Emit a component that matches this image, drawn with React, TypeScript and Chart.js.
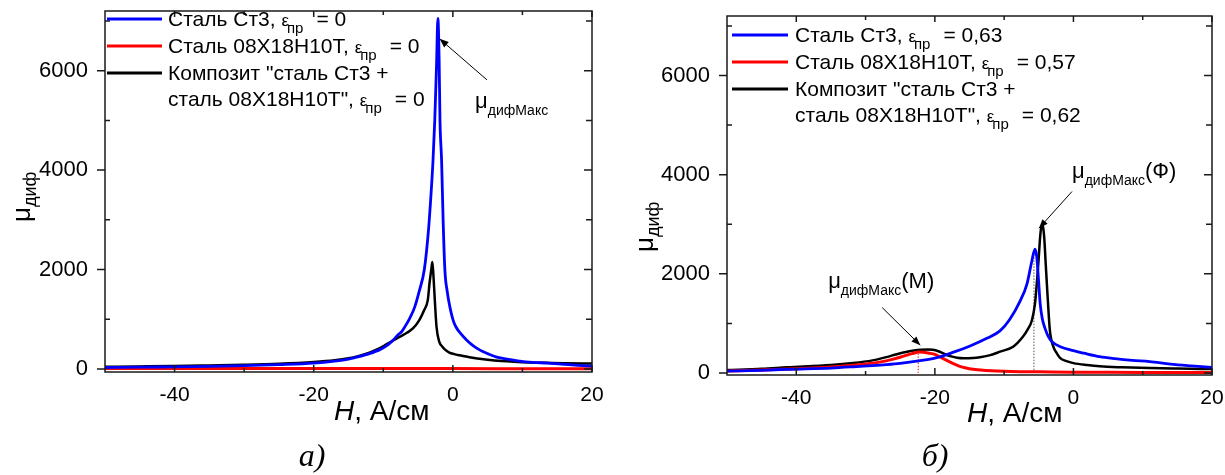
import React, { useEffect, useRef } from "react";
import { Chart, registerables } from "chart.js";

Chart.register(...registerables);

const SANS = '"Liberation Sans", Arial, sans-serif';
const SERIF = '"Liberation Serif", "Times New Roman", serif';

// ---------- Panel а): ε_пр = 0 ----------
const hA_st3 = [-50, -45, -40, -35, -30, -25, -20, -17, -15, -13.5, -12, -10.5, -9.5, -8.6, -7.8, -7.4, -6.9, -6.2, -5.5, -4.8, -4.1, -3.5, -3.1, -2.85, -2.6, -2.35, -2.15, -1.97, -1.85, -1.62, -1.4, -1.15, -0.8, -0.43, 0, 0.43, 1.2, 2, 3, 3.9, 5, 6.3, 8, 9.6, 11.5, 13.5, 16, 18, 20];
const muA_st3 = [30, 38, 45, 55, 70, 90, 120, 160, 200, 250, 310, 390, 470, 580, 700, 745, 850, 1020, 1240, 1580, 2000, 2800, 3600, 4200, 5000, 6100, 7050, 6200, 5000, 4200, 3000, 2000, 1550, 1250, 1000, 850, 700, 580, 460, 380, 310, 240, 195, 160, 135, 120, 95, 75, 60];

const hA_ss = [-50, -40, -30, -20, -10, -5, -3, 0, 10, 20];
const muA_ss = [10, 10, 9, 8, 8, 9, 11, 9, 7, 6];

const hA_cmp = [-50, -45, -40, -35, -30, -25, -20, -17, -15, -13.5, -12, -10.5, -9.5, -8.5, -7.6, -6.6, -5.7, -4.8, -4.1, -3.6, -3.35, -3.1, -2.95, -2.8, -2.6, -2.35, -1.96, -1.5, -1.2, -0.5, 0.2, 1, 2.1, 3.5, 5, 7, 8.8, 11, 13.5, 16, 20];
const muA_cmp = [45, 52, 60, 72, 85, 105, 140, 175, 215, 265, 330, 420, 500, 580, 650, 730, 820, 990, 1190, 1390, 1730, 2000, 2150, 1900, 1400, 850, 550, 450, 400, 330, 300, 275, 245, 210, 185, 160, 145, 132, 125, 118, 110];

// ---------- Panel б): ε_пр ≠ 0 ----------
const hB_st3 = [-50, -45, -41.4, -35, -31.8, -27, -25, -22.1, -20, -17.3, -15, -12.5, -10.6, -9.2, -7.7, -6.7, -6, -5.55, -5.3, -5.05, -4.8, -4.5, -4.1, -3.6, -3, -1.9, 0, 1.5, 3.8, 6, 8.5, 11, 14, 17, 20];
const muB_st3 = [40, 55, 75, 100, 125, 170, 195, 250, 300, 420, 540, 700, 850, 1080, 1450, 1800, 2260, 2500, 2350, 1900, 1400, 1100, 900, 730, 620, 530, 450, 400, 330, 290, 255, 230, 180, 145, 115];

const hB_ss = [-50, -45, -40, -35, -31, -28, -26, -24.5, -23.3, -22.3, -21.5, -20.8, -20, -19.3, -18.5, -17.5, -16.5, -15.5, -14.5, -13, -11, -9, -6, -3, 0, 5, 10, 15, 20];
const muB_ss = [40, 60, 85, 120, 165, 220, 280, 340, 390, 425, 415, 400, 375, 330, 270, 200, 140, 100, 75, 55, 40, 30, 25, 20, 17, 14, 12, 10, 10];

const hB_cmp = [-50, -45, -41.3, -35, -31.8, -29, -27, -25.5, -24, -23, -22, -21, -20.3, -19.5, -18.7, -17.8, -16.8, -15.9, -14.5, -13.5, -12, -10.6, -8.7, -7.3, -6.6, -6, -5.55, -5.07, -4.8, -4.6, -4.4, -4.2, -4.0, -3.75, -3.4, -2.9, -2.4, -1.9, -1, 0, 2, 3.8, 7, 11, 15, 20];
const muB_cmp = [60, 85, 115, 160, 200, 255, 320, 380, 430, 455, 470, 475, 470, 440, 390, 340, 310, 300, 305, 320, 360, 430, 530, 730, 880, 1060, 1400, 2200, 2750, 2980, 2950, 2700, 2200, 1600, 860, 530, 400, 300, 240, 200, 160, 135, 115, 100, 90, 80];

// dotted guide lines at the maxima (panel б)
const hB_guideSS = [-22.4, -22.4];
const muB_guideSS = [0, 420];
const hB_guideSt3 = [-5.7, -5.7];
const muB_guideSt3 = [0, 2420];

// ---------- axes ----------
const xRange = [-50, 20];
const xMajorTicks = [-40, -20, 0, 20];
const xMinorTicks = [-30, -10, 10];
const yMajorTicks = [0, 2000, 4000, 6000];
const yMinorTicks = [1000, 3000, 5000, 7000];

// ---------- texts ----------
const seriesNames = ["Сталь Ст3", "Сталь 08Х18Н10Т", 'Композит "сталь Ст3 +', 'сталь 08Х18Н10Т"'];
const epsA = ["0", "0", "0"];
const epsB = ["0,63", "0,57", "0,62"];
const seriesColors = ["#0000ff", "#ff0000", "#000000"];
const xTitleMain = "H";
const xTitleRest = ", А/см";
const yTitleMain = "μ";
const yTitleSub = "диф";
const noteMain = "μ";
const noteSub = "дифМакс";
const captions = ["а)", "б)"];

type Seg = { t: string; size: number; dy?: number; dx?: number; italic?: boolean; serif?: boolean };
const S = (t: string, size = 21, extra: Partial<Seg> = {}): Seg => ({ t, size, ...extra });

function epsRow(name: string, eps: string): Seg[] {
  return [S(name + ", "), S("ε", 17), S("пр", 15, { dy: 7, dx: -2 }), S("= " + eps, 21, { dx: 13 })];
}

function drawRich(ctx: CanvasRenderingContext2D, x: number, y: number, segs: Seg[]) {
  let cx = x;
  for (const s of segs) {
    cx += s.dx || 0;
    ctx.font = `${s.italic ? "italic " : ""}${s.size}px ${s.serif ? SERIF : SANS}`;
    ctx.fillText(s.t, cx, y + (s.dy || 0));
    cx += ctx.measureText(s.t).width;
  }
  return cx - x;
}
function richWidth(ctx: CanvasRenderingContext2D, segs: Seg[]) {
  let w = 0;
  for (const s of segs) {
    w += s.dx || 0;
    ctx.font = `${s.italic ? "italic " : ""}${s.size}px ${s.serif ? SERIF : SANS}`;
    w += ctx.measureText(s.t).width;
  }
  return w;
}

interface Series { h: number[]; mu: number[]; color: string; width: number; dash?: number[] }
interface Note { segs: Seg[]; at: [number, number]; from: [number, number]; to: [number, number] }
interface Panel {
  left: number; width: number;
  padTop: number; padRight: number; yAxisWidth: number; xAxisHeight: number;
  yMin: number; yMax: number;
  series: Series[];
  legendRows: { color: string | null; segs: Seg[]; y: number }[];
  legendX0: number; legendX1: number; legendTextX: number;
  yTitle: [number, number];
  xTitle: [number, number];
  caption: { text: string; x: number; y: number };
  notes: Note[];
}

const panelA: Panel = {
  left: 0, width: 612,
  padTop: 11, padRight: 20, yAxisWidth: 105, xAxisHeight: 103,
  yMin: -60, yMax: 7200,
  series: [
    { h: hA_st3, mu: muA_st3, color: seriesColors[0], width: 2.8 },
    { h: hA_ss, mu: muA_ss, color: seriesColors[1], width: 3 },
    { h: hA_cmp, mu: muA_cmp, color: seriesColors[2], width: 2.5 },
  ],
  legendRows: [
    { color: seriesColors[0], segs: epsRow(seriesNames[0], epsA[0]), y: 26 },
    { color: seriesColors[1], segs: epsRow(seriesNames[1], epsA[1]), y: 53 },
    { color: seriesColors[2], segs: [S(seriesNames[2])], y: 80 },
    { color: null, segs: epsRow(seriesNames[3], epsA[2]), y: 106 },
  ],
  legendX0: 107, legendX1: 162, legendTextX: 168,
  yTitle: [30, 222],
  xTitle: [334, 420],
  caption: { text: captions[0], x: 312, y: 466 },
  notes: [
    { segs: [S(noteMain, 22), S(noteSub, 14, { dy: 7 })], at: [3.2, 5250], from: [4.9, 5815], to: [-1.9, 6640] },
  ],
};

const panelB: Panel = {
  left: 612, width: 613,
  padTop: 16, padRight: 13, yAxisWidth: 115, xAxisHeight: 100,
  yMin: -40, yMax: 7200,
  series: [
    { h: hB_st3, mu: muB_st3, color: seriesColors[0], width: 2.8 },
    { h: hB_ss, mu: muB_ss, color: seriesColors[1], width: 3 },
    { h: hB_cmp, mu: muB_cmp, color: seriesColors[2], width: 2.5 },
    { h: hB_guideSS, mu: muB_guideSS, color: "#ff0000", width: 1, dash: [1.5, 1.5] },
    { h: hB_guideSt3, mu: muB_guideSt3, color: "#555555", width: 1, dash: [1.5, 1.5] },
  ],
  legendRows: [
    { color: seriesColors[0], segs: epsRow(seriesNames[0], epsB[0]), y: 42 },
    { color: seriesColors[1], segs: epsRow(seriesNames[1], epsB[1]), y: 69 },
    { color: seriesColors[2], segs: [S(seriesNames[2])], y: 96 },
    { color: null, segs: epsRow(seriesNames[3], epsB[2]), y: 122 },
  ],
  legendX0: 120, legendX1: 176, legendTextX: 183,
  yTitle: [41, 252],
  xTitle: [355, 422],
  caption: { text: captions[1], x: 323, y: 466 },
  notes: [
    { segs: [S(noteMain, 22), S(noteSub, 14, { dy: 7 }), S("(Ф)", 22)], at: [-0.21, 3940], from: [-0.21, 3660], to: [-4.97, 2920] },
    { segs: [S(noteMain, 22), S(noteSub, 14, { dy: 7 }), S("(М)", 22)], at: [-35.4, 1720], from: [-27.6, 1320], to: [-22.1, 560] },
  ],
};

function makeDecor(p: Panel) {
  return {
    id: "decor",
    afterDatasetsDraw(chart: any) {
      const { ctx, chartArea: ca, scales } = chart;
      const xs = scales.x, ys = scales.y;
      ctx.save();
      ctx.strokeStyle = "#1a1a1a";
      ctx.lineWidth = 1.5;
      ctx.strokeRect(ca.left, ca.top, ca.right - ca.left, ca.bottom - ca.top);
      ctx.beginPath();
      const seg = (x1: number, y1: number, x2: number, y2: number) => { ctx.moveTo(x1, y1); ctx.lineTo(x2, y2); };
      for (const v of xMajorTicks) {
        const px = xs.getPixelForValue(v);
        seg(px, ca.bottom, px, ca.bottom - 7);
        seg(px, ca.top, px, ca.top + 6);
      }
      for (const v of xMinorTicks) {
        const px = xs.getPixelForValue(v);
        seg(px, ca.bottom, px, ca.bottom - 4);
        seg(px, ca.top, px, ca.top + 4);
      }
      for (const v of yMajorTicks) {
        const py = ys.getPixelForValue(v);
        seg(ca.left - 8, py, ca.left, py);
        seg(ca.right, py, ca.right - 8, py);
      }
      for (const v of yMinorTicks) {
        const py = ys.getPixelForValue(v);
        seg(ca.left, py, ca.left + 5, py);
        seg(ca.right, py, ca.right - 6, py);
      }
      ctx.stroke();
      ctx.restore();
    },
    afterDraw(chart: any) {
      const { ctx, scales } = chart;
      const xs = scales.x, ys = scales.y;
      ctx.save();
      ctx.fillStyle = "#000";
      ctx.textBaseline = "alphabetic";
      ctx.textAlign = "left";
      // legend
      for (const r of p.legendRows) {
        if (r.color) {
          ctx.strokeStyle = r.color;
          ctx.lineWidth = 3;
          ctx.beginPath();
          ctx.moveTo(p.legendX0, r.y - 7);
          ctx.lineTo(p.legendX1, r.y - 7);
          ctx.stroke();
        }
        drawRich(ctx, p.legendTextX, r.y, r.segs);
      }
      // y title (rotated)
      ctx.save();
      ctx.translate(p.yTitle[0], p.yTitle[1]);
      ctx.rotate(-Math.PI / 2);
      drawRich(ctx, 0, 0, [S(yTitleMain, 26), S(yTitleSub, 18, { dy: 6 })]);
      ctx.restore();
      // x title
      drawRich(ctx, p.xTitle[0], p.xTitle[1], [S(xTitleMain, 28, { italic: true }), S(xTitleRest, 28)]);
      // caption
      const capSegs = [S(p.caption.text, 32, { italic: true, serif: true })];
      const cw = richWidth(ctx, capSegs);
      drawRich(ctx, p.caption.x - cw / 2, p.caption.y, capSegs);
      // annotations
      for (const n of p.notes) {
        drawRich(ctx, xs.getPixelForValue(n.at[0]), ys.getPixelForValue(n.at[1]), n.segs);
        const fx = xs.getPixelForValue(n.from[0]), fy = ys.getPixelForValue(n.from[1]);
        const tx = xs.getPixelForValue(n.to[0]), ty = ys.getPixelForValue(n.to[1]);
        ctx.strokeStyle = "#000";
        ctx.lineWidth = 1;
        ctx.beginPath();
        ctx.moveTo(fx, fy);
        ctx.lineTo(tx, ty);
        ctx.stroke();
        const a = Math.atan2(ty - fy, tx - fx);
        const L = 9, W = 3.5;
        ctx.beginPath();
        ctx.moveTo(tx, ty);
        ctx.lineTo(tx - L * Math.cos(a) + W * Math.sin(a), ty - L * Math.sin(a) - W * Math.cos(a));
        ctx.lineTo(tx - L * Math.cos(a) - W * Math.sin(a), ty - L * Math.sin(a) + W * Math.cos(a));
        ctx.closePath();
        ctx.fill();
      }
      ctx.restore();
    },
  };
}

function PanelChart({ p }: { p: Panel }) {
  const ref = useRef<HTMLCanvasElement | null>(null);
  useEffect(() => {
    if (!ref.current) return;
    const chart = new Chart(ref.current, {
      type: "line",
      data: {
        datasets: p.series.map((s) => ({
          data: s.h.map((h, i) => ({ x: h, y: s.mu[i] })),
          borderColor: s.color,
          borderWidth: s.width,
          borderDash: s.dash || [],
          pointRadius: 0,
          fill: false,
          tension: 0,
          cubicInterpolationMode: "monotone" as const,
        })),
      },
      options: {
        responsive: false,
        animation: false,
        devicePixelRatio: 1,
        events: [],
        layout: { padding: { left: 0, right: p.padRight, top: p.padTop, bottom: 0 } },
        plugins: { legend: { display: false }, tooltip: { enabled: false }, title: { display: false } },
        scales: {
          x: {
            type: "linear",
            min: xRange[0],
            max: xRange[1],
            afterBuildTicks: (s: any) => { s.ticks = xMajorTicks.map((v) => ({ value: v })); },
            afterFit: (s: any) => {
              s.height = p.xAxisHeight;
              s.paddingLeft = 0; s.paddingRight = 0; s.paddingTop = 0; s.paddingBottom = 0;
            },
            grid: { display: false },
            border: { display: false },
            ticks: { color: "#000", font: { family: SANS, size: 21 }, padding: 3, maxRotation: 0, autoSkip: false, callback: (v: any) => String(v) },
          },
          y: {
            type: "linear",
            min: p.yMin,
            max: p.yMax,
            afterBuildTicks: (s: any) => { s.ticks = yMajorTicks.map((v) => ({ value: v })); },
            afterFit: (s: any) => {
              s.width = p.yAxisWidth;
              s.paddingLeft = 0; s.paddingRight = 0; s.paddingTop = 0; s.paddingBottom = 0;
            },
            grid: { display: false },
            border: { display: false },
            ticks: { color: "#000", font: { family: SANS, size: 22 }, padding: 9, autoSkip: false, callback: (v: any) => String(v) },
          },
        },
      } as any,
      plugins: [makeDecor(p)],
    });
    return () => chart.destroy();
  }, [p]);
  return (
    <canvas
      ref={ref}
      width={p.width}
      height={475}
      style={{ position: "absolute", left: p.left, top: 0, width: p.width, height: 475 }}
    />
  );
}

export default function App() {
  return (
    <div style={{ position: "absolute", left: 0, top: 0, width: 1225, height: 475, background: "#fff" }}>
      <PanelChart p={panelA} />
      <PanelChart p={panelB} />
    </div>
  );
}
